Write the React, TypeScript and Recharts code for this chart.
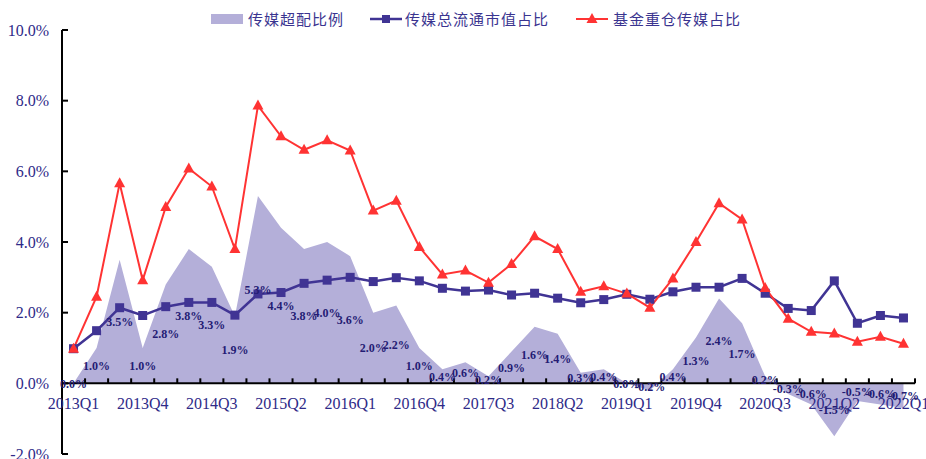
import { ComposedChart, Area, Line, XAxis, YAxis, ReferenceLine, LabelList } from 'recharts';

const quarters = [
  '2013Q1', '2013Q2', '2013Q3', '2013Q4', '2014Q1', '2014Q2', '2014Q3', '2014Q4',
  '2015Q1', '2015Q2', '2015Q3', '2015Q4', '2016Q1', '2016Q2', '2016Q3', '2016Q4',
  '2017Q1', '2017Q2', '2017Q3', '2017Q4', '2018Q1', '2018Q2', '2018Q3', '2018Q4',
  '2019Q1', '2019Q2', '2019Q3', '2019Q4', '2020Q1', '2020Q2', '2020Q3', '2020Q4',
  '2021Q1', '2021Q2', '2021Q3', '2021Q4', '2022Q1',
];

// 传媒总流通市值占比 (%)
const marketShare = [
  0.98, 1.49, 2.14, 1.92, 2.17, 2.29, 2.29, 1.93, 2.53, 2.57, 2.83, 2.92, 3.0,
  2.88, 2.99, 2.9, 2.69, 2.61, 2.64, 2.5, 2.55, 2.41, 2.28, 2.37, 2.52, 2.38,
  2.59, 2.72, 2.72, 2.97, 2.55, 2.12, 2.06, 2.9, 1.7, 1.92, 1.85,
];

// 基金重仓传媒占比 (%)
const fundShare = [
  0.98, 2.45, 5.66, 2.92, 4.99, 6.08, 5.57, 3.8, 7.86, 6.99, 6.61, 6.88, 6.59,
  4.89, 5.17, 3.86, 3.08, 3.19, 2.85, 3.38, 4.16, 3.8, 2.59, 2.75, 2.54, 2.14,
  2.97, 4.0, 5.1, 4.64, 2.7, 1.83, 1.46, 1.41, 1.18, 1.32, 1.12,
];

// 传媒超配比例 (%)
const overweight = [
  0.0, 1.0, 3.5, 1.0, 2.8, 3.8, 3.3, 1.9, 5.3, 4.4, 3.8, 4.0, 3.6, 2.0, 2.2,
  1.0, 0.4, 0.6, 0.2, 0.9, 1.6, 1.4, 0.3, 0.4, 0.0, -0.2, 0.4, 1.3, 2.4, 1.7,
  0.2, -0.3, -0.6, -1.5, -0.5, -0.6, -0.7,
];

const yTicks = [-2, 0, 2, 4, 6, 8, 10];

const W = 926;
const H = 459;
const MARGIN = { top: 30, right: 11, bottom: 4, left: 0 };
const X_AXIS_H = 1;
const Y_AXIS_W = 62;
const PLOT_LEFT = MARGIN.left + Y_AXIS_W;
const PLOT_W = W - MARGIN.left - MARGIN.right - Y_AXIS_W;
const PLOT_H = H - MARGIN.top - MARGIN.bottom - X_AXIS_H;
const BAND = PLOT_W / quarters.length;
const Y_MIN = -2;
const Y_MAX = 10;
const PX_PER_UNIT = PLOT_H / (Y_MAX - Y_MIN);
// distance from plot bottom up to the 0% line (where the x axis sits)
const ZERO_SHIFT = PX_PER_UNIT * (0 - Y_MIN);

const AXIS_TEXT = '#2E2A88';
const LABEL_TEXT = '#241C74';
const AREA_FILL = '#B4AFD9';
const NAVY = '#403494';
const RED = '#FF3333';
const SERIF = "'Liberation Serif', 'Times New Roman', serif";
const CJK = "'Noto Sans CJK SC', sans-serif";

const data = quarters.map((q, i) => ({
  q,
  market: marketShare[i],
  fund: fundShare[i],
  over: overweight[i],
  overMid: overweight[i] / 2, // Excel puts area labels halfway between 0 and the value
}));

// x axis sits on the 0% line: labels are shifted up from the plot bottom
const QuarterTick = (props: any) => {
  const { x, y, index, payload } = props;
  if (index % 3 !== 0) return <g />;
  return (
    <text x={x} y={y - ZERO_SHIFT + 20} textAnchor="middle" dominantBaseline="central" fill={AXIS_TEXT} style={{ fontSize: 16, fontFamily: SERIF }}>
      {payload.value}
    </text>
  );
};

const PercentTick = (props: any) => {
  const { y, payload } = props;
  return (
    <text x={PLOT_LEFT - 13} y={y} textAnchor="end" dominantBaseline="central" fill={AXIS_TEXT} style={{ fontSize: 16, fontFamily: SERIF }}>
      {`${Number(payload.value).toFixed(1)}%`}
    </text>
  );
};

// tick marks, hung on the points of an invisible line along 0%:
// one mark on the x axis between each pair of quarters, and the y axis marks off the first point
const TickMarks = (p: any) => {
  const { cx, cy, index } = p;
  if (cx == null || cy == null) return <g key={`tk-${index}`} />;
  const bx = cx + BAND / 2;
  return (
    <g key={`tk-${index}`}>
      <rect x={bx - 1} y={cy - 5} width={2} height={5} fill="#000" />
      {index === 0 &&
        yTicks.map((v) => (
          <rect key={`yt-${v}`} x={cx - BAND / 2} y={cy - v * PX_PER_UNIT - 1} width={6} height={2} fill="#000" />
        ))}
    </g>
  );
};

const SquareDot = (p: any) => {
  if (p.cx == null || p.cy == null) return <g key={`s-${p.index}`} />;
  return <rect key={`s-${p.index}`} x={p.cx - 4.5} y={p.cy - 4.5} width={9} height={9} fill={NAVY} />;
};

const TriangleDot = (p: any) => {
  if (p.cx == null || p.cy == null) return <g key={`t-${p.index}`} />;
  const { cx, cy } = p;
  return <path key={`t-${p.index}`} d={`M${cx},${cy - 6}L${cx + 5.5},${cy + 4}L${cx - 5.5},${cy + 4}Z`} fill={RED} />;
};

const legendText = { fontFamily: CJK, fontSize: 15, letterSpacing: 1, color: '#3A3490', lineHeight: '20px' };

const LegendRow = () => (
  <div style={{ position: 'absolute', left: 0, top: 9, width: W, height: 20, pointerEvents: 'none' }}>
    <div style={{ position: 'absolute', left: 211, top: 5, width: 32, height: 10, background: AREA_FILL }} />
    <div style={{ position: 'absolute', left: 248, top: 0, ...legendText }}>传媒超配比例</div>
    <svg style={{ position: 'absolute', left: 370, top: 0 }} width={32} height={20}>
      <line x1={0} x2={32} y1={10} y2={10} stroke={NAVY} strokeWidth={2.5} />
      <rect x={12} y={6} width={8} height={8} fill={NAVY} />
    </svg>
    <div style={{ position: 'absolute', left: 405, top: 0, ...legendText }}>传媒总流通市值占比</div>
    <svg style={{ position: 'absolute', left: 576, top: 0 }} width={32} height={20}>
      <line x1={0} x2={32} y1={10} y2={10} stroke={RED} strokeWidth={2} />
      <path d="M16,4L21.5,14L10.5,14Z" fill={RED} />
    </svg>
    <div style={{ position: 'absolute', left: 613, top: 0, ...legendText }}>基金重仓传媒占比</div>
  </div>
);

export default function App() {
  return (
    <div style={{ position: 'absolute', left: 0, top: 0, width: W, height: H, background: '#fff', fontFamily: SERIF }}>
      <ComposedChart width={W} height={H} data={data} margin={MARGIN}>
        <Area
          type="linear"
          dataKey="over"
          fill={AREA_FILL}
          fillOpacity={1}
          stroke="none"
          baseValue={0}
          isAnimationActive={false}
        />
        <XAxis
          dataKey="q"
          type="category"
          height={X_AXIS_H}
          padding={{ left: BAND / 2, right: BAND / 2 }}
          axisLine={false}
          tickLine={false}
          tickSize={0}
          tickMargin={0}
          interval={0}
          tick={<QuarterTick />}
        />
        <YAxis
          type="number"
          width={Y_AXIS_W}
          domain={[Y_MIN, Y_MAX]}
          ticks={yTicks}
          interval={0}
          axisLine={{ stroke: '#000', strokeWidth: 2 }}
          tickLine={false}
          tick={<PercentTick />}
        />
        <ReferenceLine y={0} stroke="#000" strokeWidth={2} />
        <Line
          dataKey={() => 0}
          stroke="none"
          dot={(p: any) => <TickMarks key={`tk-${p.index}`} {...p} />}
          activeDot={false}
          legendType="none"
          isAnimationActive={false}
        />
        <Line
          dataKey="overMid"
          stroke="none"
          dot={false}
          activeDot={false}
          legendType="none"
          isAnimationActive={false}
        >
          <LabelList
            dataKey="over"
            position="center"
            formatter={(v: any) => `${Number(v).toFixed(1)}%`}
            style={{ fill: LABEL_TEXT, fontSize: 12, fontWeight: 'bold', fontFamily: SERIF }}
          />
        </Line>
        <Line
          type="linear"
          dataKey="market"
          stroke={NAVY}
          strokeWidth={2.5}
          dot={(p: any) => <SquareDot key={`s-${p.index}`} {...p} />}
          activeDot={false}
          isAnimationActive={false}
        />
        <Line
          type="linear"
          dataKey="fund"
          stroke={RED}
          strokeWidth={2}
          dot={(p: any) => <TriangleDot key={`t-${p.index}`} {...p} />}
          activeDot={false}
          isAnimationActive={false}
        />
      </ComposedChart>
      <LegendRow />
    </div>
  );
}
